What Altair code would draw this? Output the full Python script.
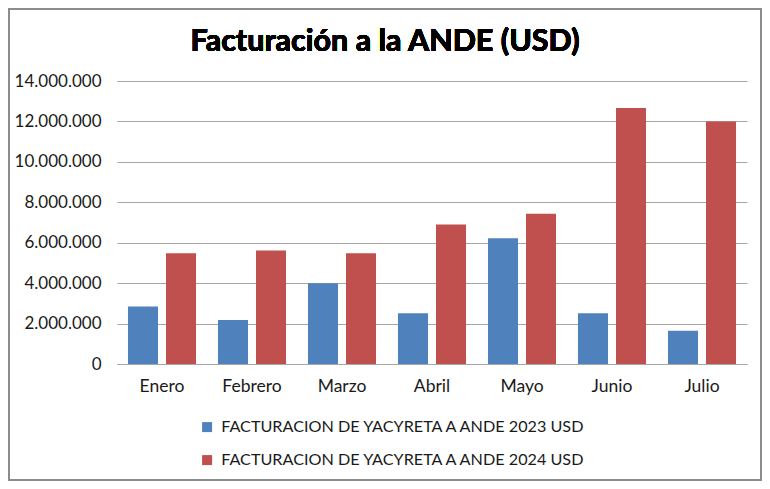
import altair as alt
import pandas as pd

months = ["Enero", "Febrero", "Marzo", "Abril", "Mayo", "Junio", "Julio"]
series_names = ["FACTURACION DE YACYRETA A ANDE 2023 USD",
                "FACTURACION DE YACYRETA A ANDE 2024 USD"]
values_2023 = [2840000, 2180000, 3990000, 2510000, 6220000, 2510000, 1650000]
values_2024 = [5480000, 5610000, 5480000, 6900000, 7430000, 12660000, 12000000]
colors = ["#4F81BD", "#C0504D"]

rows = []
for m, a, b in zip(months, values_2023, values_2024):
    rows.append({"mes": m, "serie": series_names[0], "valor": a})
    rows.append({"mes": m, "serie": series_names[1], "valor": b})
df = pd.DataFrame(rows)

FONT = "Lato"

bars = alt.Chart(df).mark_bar().encode(
    x=alt.X("mes:N", sort=months,
            scale=alt.Scale(paddingInner=0.244, paddingOuter=0.122),
            axis=alt.Axis(title=None, labelAngle=0, ticks=False, domainColor="#a6a6a6",
                          labelFontSize=17.5, labelPadding=13, labelColor="#1a1a1a",
                          labelFont=FONT)),
    xOffset=alt.XOffset("serie:N", sort=series_names,
                        scale=alt.Scale(paddingInner=0.21, paddingOuter=0)),
    y=alt.Y("valor:Q", scale=alt.Scale(domain=[0, 14000000], nice=False),
            axis=alt.Axis(title=None, values=list(range(0, 14000001, 2000000)),
                          labelExpr="replace(format(datum.value, ',d'), /,/g, '.')",
                          domain=False, ticks=False, gridColor="#a6a6a6",
                          labelFontSize=17, labelPadding=16, labelColor="#1a1a1a",
                          labelFont=FONT)),
    color=alt.Color("serie:N", sort=series_names,
                    scale=alt.Scale(domain=series_names, range=colors),
                    legend=alt.Legend(title=None, orient="none", legendX=82, legendY=338,
                                      direction="vertical", symbolType="square",
                                      symbolSize=100, symbolStrokeWidth=0,
                                      labelFontSize=16.2, labelFont=FONT,
                                      labelColor="#1a1a1a", rowPadding=16,
                                      labelLimit=600, labelOffset=6)),
)

border = alt.Chart(df).mark_rect(fill=None, stroke="#8c8c8c", strokeWidth=1.5).encode(
    x=alt.value(-108), x2=alt.value(644), y=alt.value(-72), y2=alt.value(399)
)

title = alt.Chart(df).mark_text(fontSize=30.5, fontWeight="bold", font=FONT,
                                color="#000000", align="center", baseline="alphabetic").encode(
    x=alt.value(268), y=alt.value(-30), text=alt.value("Facturación a la ANDE (USD)")
)

chart = alt.layer(border, bars, title).properties(
    width=630, height=283,
    autosize=alt.AutoSizeParams(type="none"),
    padding={"left": 109, "top": 73, "right": 15, "bottom": 117},
).configure_view(stroke=None)

chart.save("out.html", embed_options={"renderer": "svg", "actions": False})
